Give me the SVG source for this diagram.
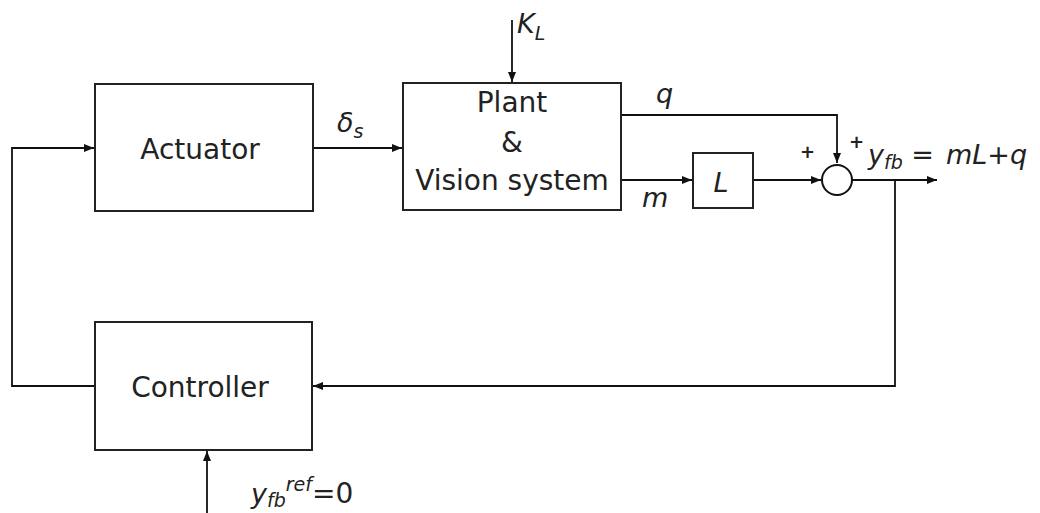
<svg xmlns="http://www.w3.org/2000/svg" width="1040" height="513" viewBox="0 0 1040 513">
<style>
.box{fill:#fff;stroke:#222;stroke-width:2}
.ln{fill:none;stroke:#111;stroke-width:1.8}
.t{font-family:"DejaVu Sans",Verdana,sans-serif;font-size:28px;fill:#222}
.i{font-family:"DejaVu Sans",Verdana,sans-serif;font-style:italic;font-size:27px;fill:#222}
.s{font-family:"DejaVu Sans",Verdana,sans-serif;font-style:italic;font-size:19px;fill:#222}
.p{font-family:"DejaVu Sans",Verdana,sans-serif;font-weight:bold;font-size:18px;fill:#222}
</style>
<defs>
<marker id="a" viewBox="0 0 10 10" refX="10" refY="5" markerWidth="10" markerHeight="10" markerUnits="userSpaceOnUse" orient="auto">
<path d="M0,1 L10,5 L0,9 z" fill="#111"/>
</marker>
</defs>
<rect width="1040" height="513" fill="#fff"/>
<g id="connectors">
<path class="ln" d="M313,148 H402" marker-end="url(#a)"/>
<path class="ln" d="M512,20 V82" marker-end="url(#a)"/>
<path class="ln" d="M621,115 H837 V163" marker-end="url(#a)"/>
<path class="ln" d="M621,180 H692" marker-end="url(#a)"/>
<path class="ln" d="M753,180 H821" marker-end="url(#a)"/>
<path class="ln" d="M852,180 H937" marker-end="url(#a)"/>
<path class="ln" d="M895,180 V386 H313" marker-end="url(#a)"/>
<path class="ln" d="M95,386 H12 V148 H94" marker-end="url(#a)"/>
<path class="ln" d="M207,513 V451" marker-end="url(#a)"/>
</g>
<g id="actuator">
<rect class="box" x="95" y="84" width="218" height="127"/>
<text class="t" x="200" y="159" text-anchor="middle">Actuator</text>
</g>
<g id="plant">
<rect class="box" x="403" y="83" width="218" height="127"/>
<text class="t" x="512" y="112" text-anchor="middle">Plant</text>
<text class="t" x="512" y="152" text-anchor="middle">&amp;</text>
<text class="t" x="512" y="190" text-anchor="middle">Vision system</text>
</g>
<g id="gainL">
<rect class="box" x="693" y="153" width="60" height="55"/>
<text class="i" x="721" y="192" text-anchor="middle">L</text>
</g>
<g id="sum">
<circle cx="837" cy="180" r="15" fill="#fff" stroke="#111" stroke-width="2"/>
</g>
<g id="controller">
<rect class="box" x="95" y="322" width="217" height="128"/>
<text class="t" x="200" y="397" text-anchor="middle">Controller</text>
</g>
<g id="labels">
<text class="i" x="517" y="33">K<tspan class="s" dy="7">L</tspan></text>
<text class="i" x="337" y="132">δ<tspan class="s" dy="6">s</tspan></text>
<text class="i" x="656" y="103">q</text>
<text class="i" x="642" y="207">m</text>
<text class="p" x="800" y="158">+</text>
<text class="p" x="849" y="148">+</text>
<text class="i" x="868" y="164">y<tspan class="s" dy="5">fb</tspan><tspan dy="-5" font-style="normal"> =</tspan><tspan dx="12">mL+q</tspan></text>
<text class="i" x="251" y="503">y<tspan class="s" dy="4">fb</tspan><tspan class="s" dy="-16">ref</tspan><tspan class="t" dy="12" font-style="normal">=0</tspan></text>
</g>
</svg>
